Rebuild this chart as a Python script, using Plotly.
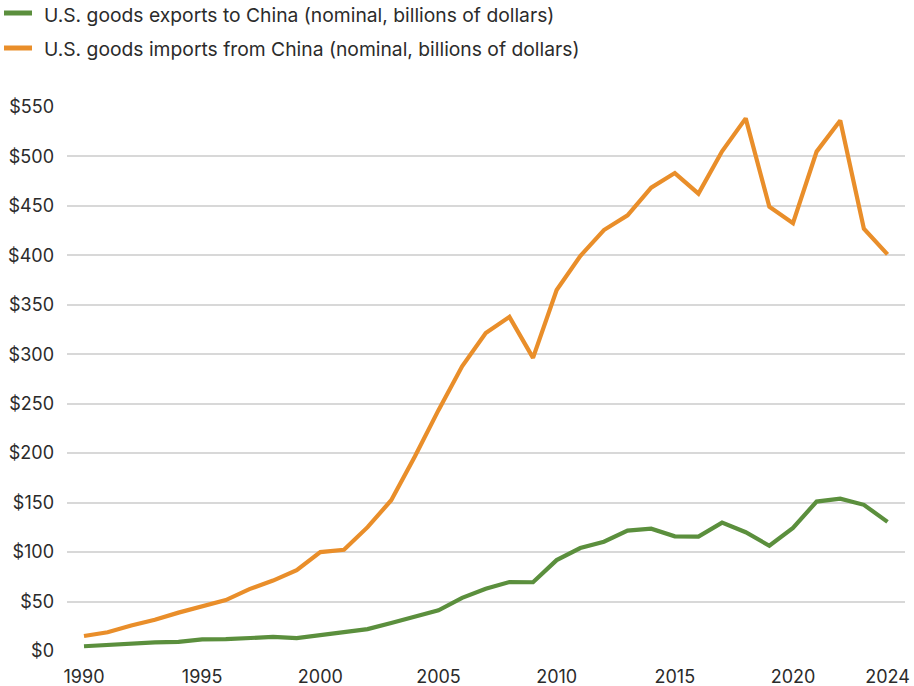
import plotly.graph_objects as go

years = list(range(1990, 2025))
exports = [4.8, 6.3, 7.4, 8.8, 9.3, 11.8, 12.0, 12.9, 14.2, 13.1,
           16.2, 19.2, 22.1, 28.4, 34.4, 41.2, 53.7, 62.9, 69.7, 69.5,
           91.9, 104.1, 110.5, 121.7, 123.7, 115.9, 115.6, 129.8, 120.1, 106.4,
           124.5, 151.1, 154.0, 147.8, 130.5]
imports = [15.2, 19.0, 25.7, 31.5, 38.8, 45.5, 51.5, 62.6, 71.2, 81.8,
           100.0, 102.3, 125.2, 152.4, 196.7, 243.5, 287.8, 321.4, 337.8, 296.4,
           364.9, 399.4, 425.6, 440.4, 468.5, 483.2, 462.4, 505.2, 538.5, 449.1,
           432.5, 504.9, 536.3, 426.9, 401.0]
x_ticks = [1990, 1995, 2000, 2005, 2010, 2015, 2020, 2024]
y_ticks = list(range(0, 551, 50))
y_labels = [f"${v}" for v in y_ticks]

names = ["U.S. goods exports to China (nominal, billions of dollars)",
         "U.S. goods imports from China (nominal, billions of dollars)"]
colors = ["#5B8F3D", "#E98E2A"]

FONT = "Inter"
TXT = "#2b2b2b"

W, H = 914, 686
ML, MR, MT, MB = 67, 9, 107, 35
PW, PH = W - ML - MR, H - MT - MB


def px_x(px):
    return (px - ML) / PW


def px_y(py):
    return (H - MB - py) / PH


fig = go.Figure()
for vals, name, col in zip([exports, imports], names, colors):
    fig.add_trace(go.Scatter(
        x=years, y=vals, mode="lines", name=name,
        line=dict(color=col, width=4.2, shape="linear"),
        hoverinfo="x+y", showlegend=False,
    ))

# legend (drawn as shapes + text above the plot area)
legend_rows = [13, 48]
for row_y, name, col in zip(legend_rows, names, colors):
    fig.add_shape(type="line", xref="paper", yref="paper",
                  x0=px_x(4), x1=px_x(32), y0=px_y(row_y), y1=px_y(row_y),
                  line=dict(color=col, width=5))
    fig.add_annotation(xref="paper", yref="paper",
                       x=px_x(42), y=px_y(row_y + 1.5),
                       xanchor="left", yanchor="middle",
                       text=name, showarrow=False,
                       font=dict(family=FONT, size=19.3, color=TXT))

fig.update_layout(
    width=W, height=H,
    margin=dict(l=ML, r=MR, t=MT, b=MB, pad=0),
    paper_bgcolor="white", plot_bgcolor="white",
    font=dict(family=FONT, size=18, color=TXT),
    showlegend=False,
    xaxis=dict(
        range=[1989.281, 2024.74],
        tickvals=x_ticks,
        ticktext=[str(t) for t in x_ticks],
        showgrid=False, zeroline=False, showline=False,
        ticks="",
        tickfont=dict(family=FONT, size=18, color=TXT),
        ticklabelstandoff=13,
        automargin=False,
        fixedrange=True,
    ),
    yaxis=dict(
        range=[0, 550],
        tickvals=y_ticks,
        ticktext=y_labels,
        showgrid=True, gridcolor="#d8d8d8", gridwidth=1.5,
        zeroline=False, showline=False,
        ticks="",
        tickfont=dict(family=FONT, size=18, color=TXT),
        ticklabelstandoff=12,
        automargin=False,
        fixedrange=True,
    ),
)

fig.write_html("out.html")
